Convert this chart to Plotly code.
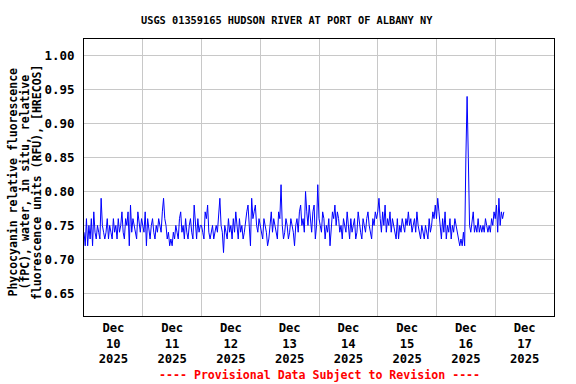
import pandas as pd
import plotly.graph_objects as go

# Phycocyanin readings (hundredths of RFU), 30-minute steps, one list per day
day10 = [74,72,76,72,75,73,76,72,77,74,73,75,74,73,79,75,74,73,74,76,73,75,74,73,
         76,74,75,73,76,74,75,77,74,73,76,75,77,72,78,74,76,75,74,73,77,75,74,76]
day11 = [75,74,77,72,76,74,73,75,76,74,73,75,74,76,75,74,77,79,76,75,73,74,72,73,
         72,74,73,75,74,73,76,77,74,75,73,76,74,73,75,76,74,73,78,75,73,76,74,75]
day12 = [75,74,73,77,76,78,74,73,74,75,73,74,75,74,76,79,75,74,71,75,74,73,76,74,
         75,73,76,74,77,75,73,76,74,75,73,74,76,77,78,75,72,79,76,77,78,75,74,76]
day13 = [75,74,73,76,75,74,72,73,75,77,74,76,75,74,73,77,76,81,75,73,74,76,75,73,
         74,76,75,74,72,75,76,74,77,78,75,76,74,80,77,75,78,76,74,77,78,73,75,81]
day14 = [76,75,74,77,76,73,75,74,76,72,74,77,76,78,75,77,76,74,75,73,76,75,74,77,
         75,73,76,74,75,76,73,74,77,75,74,73,76,75,74,76,77,75,74,73,76,75,77,76]
day15 = [77,79,76,74,77,75,78,74,76,75,77,74,76,75,74,73,76,73,75,74,76,75,74,76,
         75,77,75,76,74,75,76,74,77,75,74,73,75,74,73,75,74,73,76,74,75,77,76,78]
day16 = [76,79,77,75,73,76,74,77,73,75,74,76,73,75,74,76,75,74,73,72,73,72,74,72,
         85,94,85,75,74,76,77,74,75,74,76,74,75,74,75,74,76,75,74,75,74,76,75,77]
day17 = [76,78,74,79,75,77,76,77]

start_time = "2025-12-10 00:00"
step = "30min"

y_ticks = [0.65, 0.70, 0.75, 0.80, 0.85, 0.90, 0.95, 1.00]
day_labels = ["Dec<br>10<br>2025", "Dec<br>11<br>2025", "Dec<br>12<br>2025", "Dec<br>13<br>2025",
              "Dec<br>14<br>2025", "Dec<br>15<br>2025", "Dec<br>16<br>2025", "Dec<br>17<br>2025"]

title_text = "USGS 01359165 HUDSON RIVER AT PORT OF ALBANY NY"
y_title_lines = ["Phycocyanin relative fluorescence",
                 "(fPC), water, in situ, relative",
                 "fluorescence units (RFU), [HRECOS]"]
footer = "---- Provisional Data Subject to Revision ----"

values = [v / 100 for v in day10 + day11 + day12 + day13 + day14 + day15 + day16 + day17]
times = pd.date_range(start_time, periods=len(values), freq=step)

noon_ticks = pd.date_range("2025-12-10 12:00", periods=8, freq="1D")
midnights = pd.date_range("2025-12-11 00:00", periods=7, freq="1D")

mono = "DejaVu Sans Mono"

fig = go.Figure()
fig.add_trace(go.Scatter(x=times, y=values, mode="lines",
                         line=dict(color="#0000ff", width=1), showlegend=False))

annotations = [
    dict(text=title_text, xref="paper", yref="paper", x=0.117, xanchor="left",
         y=1.0, yshift=19, yanchor="middle", showarrow=False,
         font=dict(family=mono, size=10.3, weight="bold")),
    dict(text=footer, xref="paper", yref="paper", x=0.5, xanchor="center",
         y=0, yshift=-59, yanchor="middle", showarrow=False,
         font=dict(family=mono, size=11.6, color="#ff0000", weight="bold")),
]
for shift, line in zip([-72, -60, -47.5], y_title_lines):
    annotations.append(dict(text=line, xref="paper", yref="paper", x=0, xshift=shift,
                            xanchor="center", y=0.5, yshift=-5, yanchor="middle",
                            textangle=-90, showarrow=False,
                            font=dict(family=mono, size=11.5, weight="bold")))

fig.update_layout(
    width=576, height=384,
    margin=dict(l=84, r=22, t=39, b=68),
    paper_bgcolor="white", plot_bgcolor="white",
    font=dict(family=mono, size=12, color="black", weight="bold"),
    xaxis=dict(
        range=["2025-12-10 00:00", "2025-12-18 00:00"],
        tickmode="array", tickvals=noon_ticks, ticktext=day_labels,
        showgrid=False, ticks="", zeroline=False, automargin=False,
        showline=True, linecolor="black", linewidth=1, mirror=True,
        tickfont=dict(family=mono, size=12.2, weight="bold"),
        minor=dict(tickvals=midnights, showgrid=True, gridcolor="#c8c8c8", gridwidth=1, ticks=""),
    ),
    yaxis=dict(
        range=[0.6166, 1.0246],
        tickmode="array", tickvals=y_ticks, tickformat=".2f",
        showgrid=True, gridcolor="#c8c8c8", gridwidth=1, ticks="", zeroline=False, automargin=False,
        showline=True, linecolor="black", linewidth=1, mirror=True,
        tickfont=dict(family=mono, size=12.5, weight="bold"),
        ticklabelstandoff=6,
    ),
    annotations=annotations,
)

fig.write_html("out.html", config={"displayModeBar": False},
               post_script="document.body.style.margin='0';")
